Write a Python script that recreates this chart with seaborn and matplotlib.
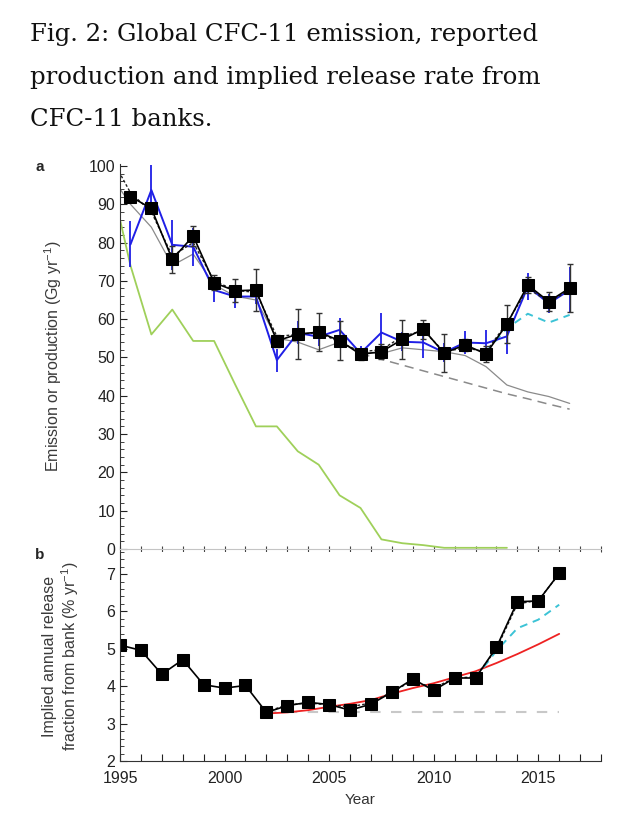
import numpy as np
import pandas as pd
import matplotlib
matplotlib.use("Agg")
import matplotlib.pyplot as plt
from matplotlib.ticker import MultipleLocator
import seaborn as sns

# ---------------- data (panel a, plotted at mid-year) ----------------
years_a = [1995.5, 1996.5, 1997.5, 1998.5, 1999.5, 2000.5, 2001.5, 2002.5, 2003.5, 2004.5, 2005.5,
           2006.5, 2007.5, 2008.5, 2009.5, 2010.5, 2011.5, 2012.5, 2013.5, 2014.5, 2015.5, 2016.5]
agage_emis = [92.0, 88.9, 75.6, 81.7, 69.5, 67.4, 67.6, 54.3, 56.1, 56.6, 54.4,
              50.8, 51.5, 54.7, 57.4, 51.1, 53.3, 50.9, 58.7, 68.9, 64.6, 68.1]
agage_err = [1.0, 1.0, 3.5, 2.5, 2.0, 3.0, 5.6, 1.5, 6.5, 5.0, 5.0,
             1.5, 2.0, 5.0, 2.5, 5.0, 1.5, 2.0, 5.0, 2.0, 2.5, 6.3]
noaa_emis = [79.5, 93.7, 79.4, 78.9, 67.6, 65.9, 65.9, 49.3, 56.4, 55.4, 57.2,
             51.1, 56.5, 54.1, 53.9, 51.3, 53.9, 53.7, 55.5, 68.5, 64.1, 67.6]
noaa_err = [6.0, 6.5, 6.5, 5.0, 3.0, 3.0, 2.0, 3.0, 3.0, 2.5, 3.0,
            2.0, 5.0, 2.5, 4.0, 2.5, 3.0, 3.5, 4.5, 3.5, 2.5, 6.0]
model_years = [1994.5] + years_a
model_emis = [103.0, 93.0, 88.0, 76.5, 80.0, 70.0, 67.5, 67.0, 55.5, 56.0, 56.5, 54.0,
              51.5, 52.0, 55.5, 57.0, 51.5, 52.5, 51.5, 59.0, 68.0, 64.5, 67.5]
bank_emis = [98.0, 90.0, 84.0, 74.0, 77.0, 69.0, 66.0, 65.0, 55.0, 54.0, 52.0, 54.0,
             51.5, 51.0, 52.5, 52.0, 51.5, 50.5, 47.6, 42.8, 41.0, 39.8, 38.0]
const_years = [2006.5, 2007.5, 2008.5, 2009.5, 2010.5, 2011.5, 2012.5, 2013.5, 2014.5, 2015.5, 2016.5]
const_emis = [51.0, 49.5, 48.0, 46.5, 45.0, 43.5, 42.0, 40.5, 39.2, 37.8, 36.5]
cyan_years_a = [2012.5, 2013.5, 2014.5, 2015.5, 2016.5]
cyan_emis = [51.5, 57.6, 61.4, 59.1, 61.1]
prod_years = [1994.5] + years_a[:19]
production = [98.0, 74.0, 56.0, 62.5, 54.3, 54.3, 43.0, 32.0, 32.0, 25.5, 22.0, 14.0,
              10.7, 2.5, 1.5, 1.0, 0.3, 0.3, 0.3, 0.3]

# ---------------- data (panel b, integer years) ----------------
years_b = list(range(1995, 2017))
release = [5.10, 4.96, 4.32, 4.71, 4.04, 3.95, 4.02, 3.30, 3.48, 3.57, 3.51,
           3.36, 3.52, 3.84, 4.19, 3.89, 4.22, 4.22, 5.04, 6.26, 6.28, 7.02]
release_alt_years = list(range(2002, 2017))
release_alt = [3.32, 3.50, 3.55, 3.50, 3.45, 3.55, 3.85, 4.15, 3.95, 4.22, 4.25,
               5.00, 6.20, 6.30, 7.00]
red_years = list(range(2002, 2017))
red_fit = [3.27, 3.30, 3.36, 3.45, 3.53, 3.63, 3.80, 3.95, 4.08, 4.24, 4.40,
           4.62, 4.86, 5.12, 5.40]
cyan_years_b = [2012, 2013, 2014, 2015, 2016]
cyan_rel = [4.22, 4.95, 5.55, 5.78, 6.18]
flat_years = [2002, 2016]
flat_rel = [3.3, 3.3]

x_ticks = list(range(1995, 2019))
x_labels = [1995, 2000, 2005, 2010, 2015]

# ---------------- style ----------------
sns.set_style("ticks")
plt.rcParams['font.family'] = ['Liberation Sans', 'DejaVu Sans']
plt.rcParams['mathtext.fontset'] = 'custom'
plt.rcParams['mathtext.rm'] = 'Liberation Sans'

fig = plt.figure(figsize=(6.4, 8.27), dpi=100)
ax1 = fig.add_axes([0.1875, 0.3362, 0.7516, 0.4655])
ax2 = fig.add_axes([0.1875, 0.0798, 0.7516, 0.2532])

BLUE = '#1f1fe6'
GREEN = '#9fd05a'
GRAY = '#8a8a8a'
CYAN = '#3cc3d6'
RED = '#ee2222'

# ---- panel a ----
sns.lineplot(x=prod_years, y=production, ax=ax1, color=GREEN, linewidth=1.3, sort=False)
sns.lineplot(x=model_years, y=bank_emis, ax=ax1, color=GRAY, linewidth=0.9, sort=False)
sns.lineplot(x=const_years, y=const_emis, ax=ax1, color=GRAY, linewidth=1.1, sort=False,
             linestyle=(0, (6, 4)))
sns.lineplot(x=cyan_years_a, y=cyan_emis, ax=ax1, color=CYAN, linewidth=1.4, sort=False,
             linestyle=(0, (4, 3)))
ax1.errorbar(years_a, noaa_emis, yerr=noaa_err, fmt='none', ecolor=BLUE, elinewidth=1.3, capsize=0)
sns.lineplot(x=years_a, y=noaa_emis, ax=ax1, color=BLUE, linewidth=1.4, sort=False)
sns.lineplot(x=model_years, y=model_emis, ax=ax1, color='#222222', linewidth=1.0, sort=False,
             linestyle=(0, (2, 1.5)))
ax1.errorbar(years_a, agage_emis, yerr=agage_err, fmt='none', ecolor='#333333', elinewidth=1.0,
             capsize=2.5, capthick=1.0)
sns.lineplot(x=years_a, y=agage_emis, ax=ax1, color='black', linewidth=1.2, sort=False,
             marker='s', markersize=8, markeredgecolor='black', markerfacecolor='black')

ax1.set_xlim(1995, 2018)
ax1.set_ylim(0, 100.5)
ax1.set_xticks(x_ticks)
ax1.set_xticklabels([])
ax1.yaxis.set_major_locator(MultipleLocator(10))
ax1.yaxis.set_minor_locator(MultipleLocator(2))
ax1.tick_params(axis='y', which='both', direction='in', labelsize=11.5, colors='#222222')
ax1.tick_params(axis='y', which='major', length=5)
ax1.tick_params(axis='y', which='minor', length=3)
ax1.tick_params(axis='x', which='major', direction='inout', length=4, color='#444444')
for s in ['top', 'right']:
    ax1.spines[s].set_visible(False)
ax1.spines['bottom'].set_color('#c4c4c4')
ax1.spines['left'].set_color('#333333')
ax1.set_ylabel('Emission or production (Gg yr$^{-1}$)', fontsize=11.5, color='#3a3a3a', labelpad=18)
ax1.set_xlabel('')

# ---- panel b ----
sns.lineplot(x=flat_years, y=flat_rel, ax=ax2, color='#c8c8c8', linewidth=1.5, sort=False,
             linestyle=(0, (5, 5)))
sns.lineplot(x=red_years, y=red_fit, ax=ax2, color=RED, linewidth=1.3, sort=False)
sns.lineplot(x=cyan_years_b, y=cyan_rel, ax=ax2, color=CYAN, linewidth=1.4, sort=False,
             linestyle=(0, (4, 3)))
sns.lineplot(x=release_alt_years, y=release_alt, ax=ax2, color='#222222', linewidth=1.0, sort=False,
             linestyle=(0, (2, 1.5)))
sns.lineplot(x=years_b, y=release, ax=ax2, color='black', linewidth=1.2, sort=False,
             marker='s', markersize=8, markeredgecolor='black', markerfacecolor='black')

ax2.set_xlim(1995, 2018)
ax2.set_ylim(2, 7.6)
ax2.set_xticks(x_ticks)
ax2.set_xticklabels([str(y) if y in x_labels else '' for y in x_ticks])
ax2.yaxis.set_major_locator(MultipleLocator(1))
ax2.yaxis.set_minor_locator(MultipleLocator(0.2))
ax2.tick_params(axis='both', which='both', direction='in', labelsize=11.5, colors='#222222')
ax2.tick_params(axis='both', which='major', length=5)
ax2.tick_params(axis='x', which='major', pad=7)
ax2.tick_params(axis='y', which='minor', length=3)
for s in ['top', 'right']:
    ax2.spines[s].set_visible(False)
ax2.spines['bottom'].set_color('#333333')
ax2.spines['left'].set_color('#333333')
ax2.set_ylabel('Implied annual release\nfraction from bank (% yr$^{-1}$)', fontsize=11.5,
               color='#3a3a3a', labelpad=18, linespacing=1.15)
ax2.set_xlabel('Year', fontsize=11, color='#333333', labelpad=5)

# ---- panel letters and title ----
fig.text(35 / 640, 1 - 167 / 827, 'a', fontsize=11, fontweight='bold', va='center', ha='left')
fig.text(35 / 640, 1 - 555 / 827, 'b', fontsize=11, fontweight='bold', va='center', ha='left')

title_lines = ['Fig. 2: Global CFC-11 emission, reported',
               'production and implied release rate from',
               'CFC-11 banks.']
for i, line in enumerate(title_lines):
    fig.text(30 / 640, 1 - (35 + 42.5 * i) / 827, line, fontsize=17.6,
             family=['DejaVu Serif'], color='#111111', va='center', ha='left')

fig.savefig('out.png', dpi=100)
